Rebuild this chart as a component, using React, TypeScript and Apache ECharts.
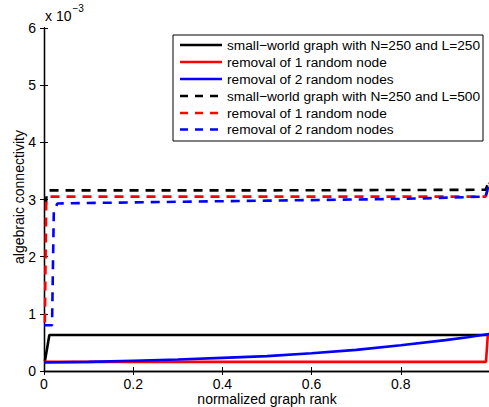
import React, { useEffect, useRef } from "react";
import * as echarts from "echarts";

// values in units of 1e-3
const seriesNames = [
  "small\u2212world graph with N=250 and L=250",
  "removal of 1 random node",
  "removal of 2 random nodes",
  "small\u2212world graph with N=250 and L=500",
  "removal of 1 random node",
  "removal of 2 random nodes",
];
const seriesColors = ["#000000", "#ff0000", "#0000ff", "#000000", "#ff0000", "#0000ff"];
const seriesDashed = [false, false, false, true, true, true];

const blackSolidX = [0.002, 0.012, 1.0];
const blackSolidY = [0.17, 0.63, 0.63];

const redSolidX = [0, 0.2, 0.5, 0.8, 0.991, 0.995, 1.0];
const redSolidY = [0.16, 0.16, 0.16, 0.16, 0.16, 0.62, 0.65];

const blueSolidX = [0, 0.1, 0.2, 0.3, 0.4, 0.5, 0.6, 0.7, 0.8, 0.9, 0.95, 1.0];
const blueSolidY = [0.15, 0.16, 0.18, 0.2, 0.23, 0.26, 0.31, 0.37, 0.45, 0.54, 0.59, 0.65];

const blackDashX = [0.004, 0.006, 0.012, 0.5, 0.99, 1.0];
const blackDashY = [2.9, 3.1, 3.16, 3.16, 3.17, 3.36];

const redDashX = [0.002, 0.005, 0.012, 0.5, 0.99, 1.0];
const redDashY = [0.85, 2.98, 3.05, 3.05, 3.05, 3.3];

const blueDashX = [0, 0.018, 0.022, 0.03, 0.2, 0.5, 0.8, 0.99, 1.0];
const blueDashY = [0.8, 0.8, 2.8, 2.93, 2.95, 2.98, 3.01, 3.05, 3.32];

// tick labels visible in the picture (the "1" falls outside the frame)
const xTickLabels = [0, 0.2, 0.4, 0.6, 0.8];
const yTickLabels = [0, 1, 2, 3, 4, 5, 6];

const FONT = "Liberation Sans, Arial, Helvetica, sans-serif";
const DASH = [9, 7];

function pairs(xs: number[], ys: number[]) {
  return xs.map((x, i) => [x, ys[i]]);
}

export default function App() {
  const ref = useRef<HTMLDivElement>(null);
  useEffect(() => {
    if (!ref.current) return;
    const chart = echarts.init(ref.current, undefined, { renderer: "svg" });
    const xs = [blackSolidX, redSolidX, blueSolidX, blackDashX, redDashX, blueDashX];
    const ys = [blackSolidY, redSolidY, blueSolidY, blackDashY, redDashY, blueDashY];
    const series = seriesNames.map((name, i) => ({
      name,
      type: "line",
      data: pairs(xs[i], ys[i]),
      showSymbol: false,
      symbol: "none",
      z: 2 + i,
      lineStyle: { color: seriesColors[i], width: 2.6, type: seriesDashed[i] ? DASH : "solid" },
      itemStyle: { color: seriesColors[i] },
    }));
    const axisCommon = {
      axisLine: { show: true, lineStyle: { color: "#000", width: 1.3 } },
      axisTick: { show: true, inside: true, length: 4, lineStyle: { color: "#000", width: 1 } },
      splitLine: { show: false },
    };

    // legend drawn manually
    const legTop = 35;
    const legLeft = 173;
    const legRight = 483;
    const legBottom = 141;
    const rowY = [45, 62, 79, 96, 113, 129.5];
    const legendEls: any[] = [
      {
        type: "rect",
        z: 100,
        shape: { x: legLeft, y: legTop, width: legRight - legLeft, height: legBottom - legTop },
        style: { fill: "#fff", stroke: "#000", lineWidth: 1 },
      },
    ];
    seriesNames.forEach((name, i) => {
      legendEls.push({
        type: "line",
        z: 101,
        shape: { x1: 180, y1: rowY[i], x2: 222, y2: rowY[i] },
        style: {
          stroke: seriesColors[i],
          lineWidth: 2.6,
          lineDash: seriesDashed[i] ? [8, 7] : null,
        },
      });
      legendEls.push({
        type: "text",
        z: 101,
        x: 227,
        y: rowY[i],
        style: {
          text: name,
          fontFamily: FONT,
          fontSize: 13.7,
          fill: "#000",
          align: "left",
          verticalAlign: "middle",
        },
      });
    });

    chart.setOption({
      animation: false,
      backgroundColor: "#fff",
      grid: { left: 44, top: 28, width: 446, height: 343, containLabel: false, outerBoundsMode: "none" },
      xAxis: [
        {
          type: "value",
          min: 0,
          max: 1,
          interval: 0.2,
          ...axisCommon,
          axisLabel: {
            fontFamily: FONT,
            fontSize: 14,
            lineHeight: 13,
            color: "#000",
            margin: 6,
            formatter: (v: number) => {
              const r = Math.round(v * 10) / 10;
              return xTickLabels.includes(r) ? String(r) : "";
            },
          },
        },
        {
          type: "value",
          position: "top",
          min: 0,
          max: 1,
          interval: 0.2,
          ...axisCommon,
          axisLabel: { show: false },
        },
      ],
      yAxis: [
        {
          type: "value",
          min: 0,
          max: 6,
          interval: 1,
          ...axisCommon,
          axisLabel: {
            fontFamily: FONT,
            fontSize: 14,
            color: "#000",
            margin: 8,
            formatter: (v: number) => (yTickLabels.includes(v) ? String(v) : ""),
          },
        },
        {
          type: "value",
          position: "right",
          min: 0,
          max: 6,
          interval: 1,
          ...axisCommon,
          axisLabel: { show: false },
        },
      ],
      graphic: [
        {
          type: "text",
          left: 45,
          top: 3,
          style: {
            text: "{a|x 10}{b|\u22123}",
            rich: {
              a: { fontFamily: FONT, fontSize: 14, fill: "#000", padding: [8, 0, 0, 0] },
              b: { fontFamily: FONT, fontSize: 10, fill: "#000", padding: [0, 0, 7, 1] },
            },
          },
        },
        {
          type: "text",
          x: 267,
          y: 399,
          style: {
            text: "normalized graph rank",
            fontFamily: FONT,
            fontSize: 14,
            lineHeight: 13,
            fill: "#000",
            align: "center",
            verticalAlign: "middle",
          },
        },
        {
          type: "text",
          x: 19,
          y: 197,
          rotation: Math.PI / 2,
          style: {
            text: "algebraic connectivity",
            fontFamily: FONT,
            fontSize: 14,
            fill: "#000",
            align: "center",
            verticalAlign: "middle",
          },
        },
        ...legendEls,
      ],
      series,
    });
    return () => chart.dispose();
  }, []);
  return (
    <div
      ref={ref}
      style={{ position: "fixed", left: 0, top: 0, width: 489, height: 407, background: "#fff" }}
    />
  );
}
